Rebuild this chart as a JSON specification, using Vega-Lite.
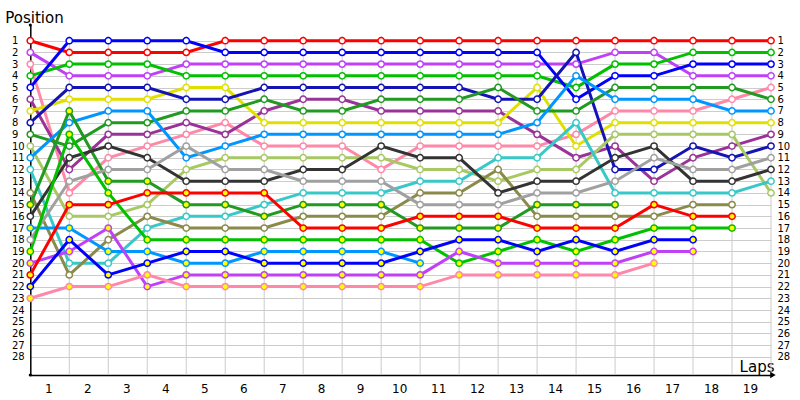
{
  "$schema": "https://vega.github.io/schema/vega-lite/v6.json",
  "width": 740.7,
  "height": 350,
  "padding": {"left": 30.3, "top": 25, "right": 29, "bottom": 25},
  "autosize": {"type": "none"},
  "background": "white",
  "config": {"view": {"stroke": null}, "font": "DejaVu Sans"},
  "datasets": {
    "laps": [{"lap":1},{"lap":2},{"lap":3},{"lap":4},{"lap":5},{"lap":6},{"lap":7},{"lap":8},{"lap":9},{"lap":10},{"lap":11},{"lap":12},{"lap":13},{"lap":14},{"lap":15},{"lap":16},{"lap":17},{"lap":18},{"lap":19}],
    "race": [
{"d":"A","g":"w","lap":0,"pos":1},{"d":"A","g":"w","lap":1,"pos":2},{"d":"A","g":"w","lap":2,"pos":2},{"d":"A","g":"w","lap":3,"pos":2},{"d":"A","g":"w","lap":4,"pos":2},{"d":"A","g":"w","lap":5,"pos":1},{"d":"A","g":"w","lap":6,"pos":1},{"d":"A","g":"w","lap":7,"pos":1},{"d":"A","g":"w","lap":8,"pos":1},{"d":"A","g":"w","lap":9,"pos":1},{"d":"A","g":"w","lap":10,"pos":1},{"d":"A","g":"w","lap":11,"pos":1},{"d":"A","g":"w","lap":12,"pos":1},{"d":"A","g":"w","lap":13,"pos":1},{"d":"A","g":"w","lap":14,"pos":1},{"d":"A","g":"w","lap":15,"pos":1},{"d":"A","g":"w","lap":16,"pos":1},{"d":"A","g":"w","lap":17,"pos":1},{"d":"A","g":"w","lap":18,"pos":1},{"d":"A","g":"w","lap":19,"pos":1},
{"d":"B","g":"w","lap":0,"pos":2},{"d":"B","g":"w","lap":1,"pos":4},{"d":"B","g":"w","lap":2,"pos":4},{"d":"B","g":"w","lap":3,"pos":4},{"d":"B","g":"w","lap":4,"pos":3},{"d":"B","g":"w","lap":5,"pos":3},{"d":"B","g":"w","lap":6,"pos":3},{"d":"B","g":"w","lap":7,"pos":3},{"d":"B","g":"w","lap":8,"pos":3},{"d":"B","g":"w","lap":9,"pos":3},{"d":"B","g":"w","lap":10,"pos":3},{"d":"B","g":"w","lap":11,"pos":3},{"d":"B","g":"w","lap":12,"pos":3},{"d":"B","g":"w","lap":13,"pos":3},{"d":"B","g":"w","lap":14,"pos":3},{"d":"B","g":"w","lap":15,"pos":2},{"d":"B","g":"w","lap":16,"pos":2},{"d":"B","g":"w","lap":17,"pos":4},{"d":"B","g":"w","lap":18,"pos":4},{"d":"B","g":"w","lap":19,"pos":4},
{"d":"C","g":"w","lap":0,"pos":3},{"d":"C","g":"w","lap":1,"pos":14},{"d":"C","g":"w","lap":2,"pos":11},{"d":"C","g":"w","lap":3,"pos":10},{"d":"C","g":"w","lap":4,"pos":9},{"d":"C","g":"w","lap":5,"pos":8},{"d":"C","g":"w","lap":6,"pos":10},{"d":"C","g":"w","lap":7,"pos":10},{"d":"C","g":"w","lap":8,"pos":10},{"d":"C","g":"w","lap":9,"pos":12},{"d":"C","g":"w","lap":10,"pos":10},{"d":"C","g":"w","lap":11,"pos":10},{"d":"C","g":"w","lap":12,"pos":10},{"d":"C","g":"w","lap":13,"pos":10},{"d":"C","g":"w","lap":14,"pos":9},{"d":"C","g":"w","lap":15,"pos":7},{"d":"C","g":"w","lap":16,"pos":7},{"d":"C","g":"w","lap":17,"pos":7},{"d":"C","g":"w","lap":18,"pos":6},{"d":"C","g":"w","lap":19,"pos":5},
{"d":"D","g":"w","lap":0,"pos":4},{"d":"D","g":"w","lap":1,"pos":3},{"d":"D","g":"w","lap":2,"pos":3},{"d":"D","g":"w","lap":3,"pos":3},{"d":"D","g":"w","lap":4,"pos":4},{"d":"D","g":"w","lap":5,"pos":4},{"d":"D","g":"w","lap":6,"pos":4},{"d":"D","g":"w","lap":7,"pos":4},{"d":"D","g":"w","lap":8,"pos":4},{"d":"D","g":"w","lap":9,"pos":4},{"d":"D","g":"w","lap":10,"pos":4},{"d":"D","g":"w","lap":11,"pos":4},{"d":"D","g":"w","lap":12,"pos":4},{"d":"D","g":"w","lap":13,"pos":4},{"d":"D","g":"w","lap":14,"pos":5},{"d":"D","g":"w","lap":15,"pos":3},{"d":"D","g":"w","lap":16,"pos":3},{"d":"D","g":"w","lap":17,"pos":2},{"d":"D","g":"w","lap":18,"pos":2},{"d":"D","g":"w","lap":19,"pos":2},
{"d":"E","g":"w","lap":0,"pos":5},{"d":"E","g":"w","lap":1,"pos":1},{"d":"E","g":"w","lap":2,"pos":1},{"d":"E","g":"w","lap":3,"pos":1},{"d":"E","g":"w","lap":4,"pos":1},{"d":"E","g":"w","lap":5,"pos":2},{"d":"E","g":"w","lap":6,"pos":2},{"d":"E","g":"w","lap":7,"pos":2},{"d":"E","g":"w","lap":8,"pos":2},{"d":"E","g":"w","lap":9,"pos":2},{"d":"E","g":"w","lap":10,"pos":2},{"d":"E","g":"w","lap":11,"pos":2},{"d":"E","g":"w","lap":12,"pos":2},{"d":"E","g":"w","lap":13,"pos":2},{"d":"E","g":"w","lap":14,"pos":6},{"d":"E","g":"w","lap":15,"pos":4},{"d":"E","g":"w","lap":16,"pos":4},{"d":"E","g":"w","lap":17,"pos":3},{"d":"E","g":"w","lap":18,"pos":3},{"d":"E","g":"w","lap":19,"pos":3},
{"d":"F","g":"w","lap":0,"pos":6},{"d":"F","g":"w","lap":1,"pos":12},{"d":"F","g":"w","lap":2,"pos":9},{"d":"F","g":"w","lap":3,"pos":9},{"d":"F","g":"w","lap":4,"pos":8},{"d":"F","g":"w","lap":5,"pos":9},{"d":"F","g":"w","lap":6,"pos":7},{"d":"F","g":"w","lap":7,"pos":6},{"d":"F","g":"w","lap":8,"pos":6},{"d":"F","g":"w","lap":9,"pos":7},{"d":"F","g":"w","lap":10,"pos":7},{"d":"F","g":"w","lap":11,"pos":7},{"d":"F","g":"w","lap":12,"pos":7},{"d":"F","g":"w","lap":13,"pos":9},{"d":"F","g":"w","lap":14,"pos":11},{"d":"F","g":"w","lap":15,"pos":10},{"d":"F","g":"w","lap":16,"pos":13},{"d":"F","g":"w","lap":17,"pos":11},{"d":"F","g":"w","lap":18,"pos":10},{"d":"F","g":"w","lap":19,"pos":9},
{"d":"G","g":"w","lap":0,"pos":7},{"d":"G","g":"w","lap":1,"pos":6},{"d":"G","g":"w","lap":2,"pos":6},{"d":"G","g":"w","lap":3,"pos":6},{"d":"G","g":"w","lap":4,"pos":5},{"d":"G","g":"w","lap":5,"pos":5},{"d":"G","g":"w","lap":6,"pos":8},{"d":"G","g":"w","lap":7,"pos":8},{"d":"G","g":"w","lap":8,"pos":8},{"d":"G","g":"w","lap":9,"pos":8},{"d":"G","g":"w","lap":10,"pos":8},{"d":"G","g":"w","lap":11,"pos":8},{"d":"G","g":"w","lap":12,"pos":8},{"d":"G","g":"w","lap":13,"pos":5},{"d":"G","g":"w","lap":14,"pos":10},{"d":"G","g":"w","lap":15,"pos":8},{"d":"G","g":"w","lap":16,"pos":8},{"d":"G","g":"w","lap":17,"pos":8},{"d":"G","g":"w","lap":18,"pos":8},{"d":"G","g":"w","lap":19,"pos":8},
{"d":"H","g":"w","lap":0,"pos":8},{"d":"H","g":"w","lap":1,"pos":5},{"d":"H","g":"w","lap":2,"pos":5},{"d":"H","g":"w","lap":3,"pos":5},{"d":"H","g":"w","lap":4,"pos":6},{"d":"H","g":"w","lap":5,"pos":6},{"d":"H","g":"w","lap":6,"pos":5},{"d":"H","g":"w","lap":7,"pos":5},{"d":"H","g":"w","lap":8,"pos":5},{"d":"H","g":"w","lap":9,"pos":5},{"d":"H","g":"w","lap":10,"pos":5},{"d":"H","g":"w","lap":11,"pos":5},{"d":"H","g":"w","lap":12,"pos":6},{"d":"H","g":"w","lap":13,"pos":6},{"d":"H","g":"w","lap":14,"pos":2},{"d":"H","g":"w","lap":15,"pos":12},{"d":"H","g":"w","lap":16,"pos":12},{"d":"H","g":"w","lap":17,"pos":10},{"d":"H","g":"w","lap":18,"pos":11},{"d":"H","g":"w","lap":19,"pos":10},
{"d":"I","g":"w","lap":0,"pos":9},{"d":"I","g":"w","lap":1,"pos":10},{"d":"I","g":"w","lap":2,"pos":8},{"d":"I","g":"w","lap":3,"pos":8},{"d":"I","g":"w","lap":4,"pos":7},{"d":"I","g":"w","lap":5,"pos":7},{"d":"I","g":"w","lap":6,"pos":6},{"d":"I","g":"w","lap":7,"pos":7},{"d":"I","g":"w","lap":8,"pos":7},{"d":"I","g":"w","lap":9,"pos":6},{"d":"I","g":"w","lap":10,"pos":6},{"d":"I","g":"w","lap":11,"pos":6},{"d":"I","g":"w","lap":12,"pos":5},{"d":"I","g":"w","lap":13,"pos":7},{"d":"I","g":"w","lap":14,"pos":7},{"d":"I","g":"w","lap":15,"pos":5},{"d":"I","g":"w","lap":16,"pos":5},{"d":"I","g":"w","lap":17,"pos":5},{"d":"I","g":"w","lap":18,"pos":5},{"d":"I","g":"w","lap":19,"pos":6},
{"d":"J","g":"w","lap":0,"pos":10},{"d":"J","g":"w","lap":1,"pos":16},{"d":"J","g":"w","lap":2,"pos":16},{"d":"J","g":"w","lap":3,"pos":15},{"d":"J","g":"w","lap":4,"pos":12},{"d":"J","g":"w","lap":5,"pos":11},{"d":"J","g":"w","lap":6,"pos":11},{"d":"J","g":"w","lap":7,"pos":11},{"d":"J","g":"w","lap":8,"pos":11},{"d":"J","g":"w","lap":9,"pos":11},{"d":"J","g":"w","lap":10,"pos":12},{"d":"J","g":"w","lap":11,"pos":12},{"d":"J","g":"w","lap":12,"pos":13},{"d":"J","g":"w","lap":13,"pos":12},{"d":"J","g":"w","lap":14,"pos":12},{"d":"J","g":"w","lap":15,"pos":9},{"d":"J","g":"w","lap":16,"pos":9},{"d":"J","g":"w","lap":17,"pos":9},{"d":"J","g":"w","lap":18,"pos":9},{"d":"J","g":"w","lap":19,"pos":14},
{"d":"K","g":"w","lap":0,"pos":11},{"d":"K","g":"w","lap":1,"pos":8},{"d":"K","g":"w","lap":2,"pos":7},{"d":"K","g":"w","lap":3,"pos":7},{"d":"K","g":"w","lap":4,"pos":11},{"d":"K","g":"w","lap":5,"pos":10},{"d":"K","g":"w","lap":6,"pos":9},{"d":"K","g":"w","lap":7,"pos":9},{"d":"K","g":"w","lap":8,"pos":9},{"d":"K","g":"w","lap":9,"pos":9},{"d":"K","g":"w","lap":10,"pos":9},{"d":"K","g":"w","lap":11,"pos":9},{"d":"K","g":"w","lap":12,"pos":9},{"d":"K","g":"w","lap":13,"pos":8},{"d":"K","g":"w","lap":14,"pos":4},{"d":"K","g":"w","lap":15,"pos":6},{"d":"K","g":"w","lap":16,"pos":6},{"d":"K","g":"w","lap":17,"pos":6},{"d":"K","g":"w","lap":18,"pos":7},{"d":"K","g":"w","lap":19,"pos":7},
{"d":"L","g":"w","lap":0,"pos":12},{"d":"L","g":"w","lap":1,"pos":20},{"d":"L","g":"w","lap":2,"pos":20},{"d":"L","g":"w","lap":3,"pos":17},{"d":"L","g":"w","lap":4,"pos":16},{"d":"L","g":"w","lap":5,"pos":16},{"d":"L","g":"w","lap":6,"pos":15},{"d":"L","g":"w","lap":7,"pos":14},{"d":"L","g":"w","lap":8,"pos":14},{"d":"L","g":"w","lap":9,"pos":14},{"d":"L","g":"w","lap":10,"pos":13},{"d":"L","g":"w","lap":11,"pos":13},{"d":"L","g":"w","lap":12,"pos":11},{"d":"L","g":"w","lap":13,"pos":11},{"d":"L","g":"w","lap":14,"pos":8},{"d":"L","g":"w","lap":15,"pos":14},{"d":"L","g":"w","lap":16,"pos":14},{"d":"L","g":"w","lap":17,"pos":14},{"d":"L","g":"w","lap":18,"pos":14},{"d":"L","g":"w","lap":19,"pos":13},
{"d":"M","g":"w","lap":0,"pos":14},{"d":"M","g":"w","lap":1,"pos":21},{"d":"M","g":"w","lap":2,"pos":18},{"d":"M","g":"w","lap":3,"pos":16},{"d":"M","g":"w","lap":4,"pos":17},{"d":"M","g":"w","lap":5,"pos":17},{"d":"M","g":"w","lap":6,"pos":17},{"d":"M","g":"w","lap":7,"pos":16},{"d":"M","g":"w","lap":8,"pos":16},{"d":"M","g":"w","lap":9,"pos":16},{"d":"M","g":"w","lap":10,"pos":14},{"d":"M","g":"w","lap":11,"pos":14},{"d":"M","g":"w","lap":12,"pos":12},{"d":"M","g":"w","lap":13,"pos":16},{"d":"M","g":"w","lap":14,"pos":16},{"d":"M","g":"w","lap":15,"pos":16},{"d":"M","g":"w","lap":16,"pos":16},{"d":"M","g":"w","lap":17,"pos":15},{"d":"M","g":"w","lap":18,"pos":15},
{"d":"N","g":"y","lap":0,"pos":15},{"d":"N","g":"y","lap":1,"pos":7},{"d":"N","g":"y","lap":2,"pos":13},{"d":"N","g":"y","lap":3,"pos":13},{"d":"N","g":"y","lap":4,"pos":15},{"d":"N","g":"y","lap":5,"pos":15},{"d":"N","g":"y","lap":6,"pos":16},{"d":"N","g":"y","lap":7,"pos":15},{"d":"N","g":"y","lap":8,"pos":15},{"d":"N","g":"y","lap":9,"pos":15},{"d":"N","g":"y","lap":10,"pos":17},{"d":"N","g":"y","lap":11,"pos":17},{"d":"N","g":"y","lap":12,"pos":17},{"d":"N","g":"y","lap":13,"pos":15},{"d":"N","g":"y","lap":14,"pos":15},{"d":"N","g":"y","lap":15,"pos":15},
{"d":"O","g":"w","lap":0,"pos":16},{"d":"O","g":"w","lap":1,"pos":11},{"d":"O","g":"w","lap":2,"pos":10},{"d":"O","g":"w","lap":3,"pos":11},{"d":"O","g":"w","lap":4,"pos":13},{"d":"O","g":"w","lap":5,"pos":13},{"d":"O","g":"w","lap":6,"pos":13},{"d":"O","g":"w","lap":7,"pos":12},{"d":"O","g":"w","lap":8,"pos":12},{"d":"O","g":"w","lap":9,"pos":10},{"d":"O","g":"w","lap":10,"pos":11},{"d":"O","g":"w","lap":11,"pos":11},{"d":"O","g":"w","lap":12,"pos":14},{"d":"O","g":"w","lap":13,"pos":13},{"d":"O","g":"w","lap":14,"pos":13},{"d":"O","g":"w","lap":15,"pos":11},{"d":"O","g":"w","lap":16,"pos":10},{"d":"O","g":"w","lap":17,"pos":13},{"d":"O","g":"w","lap":18,"pos":13},{"d":"O","g":"w","lap":19,"pos":12},
{"d":"P","g":"y","lap":0,"pos":17},{"d":"P","g":"y","lap":1,"pos":17},{"d":"P","g":"y","lap":2,"pos":19},{"d":"P","g":"y","lap":3,"pos":19},{"d":"P","g":"y","lap":4,"pos":20},{"d":"P","g":"y","lap":5,"pos":20},{"d":"P","g":"y","lap":6,"pos":19},{"d":"P","g":"y","lap":7,"pos":19},{"d":"P","g":"y","lap":8,"pos":19},{"d":"P","g":"y","lap":9,"pos":19},{"d":"P","g":"y","lap":10,"pos":20},
{"d":"Q","g":"w","lap":0,"pos":18},{"d":"Q","g":"w","lap":1,"pos":13},{"d":"Q","g":"w","lap":2,"pos":12},{"d":"Q","g":"w","lap":3,"pos":12},{"d":"Q","g":"w","lap":4,"pos":10},{"d":"Q","g":"w","lap":5,"pos":12},{"d":"Q","g":"w","lap":6,"pos":12},{"d":"Q","g":"w","lap":7,"pos":13},{"d":"Q","g":"w","lap":8,"pos":13},{"d":"Q","g":"w","lap":9,"pos":13},{"d":"Q","g":"w","lap":10,"pos":15},{"d":"Q","g":"w","lap":11,"pos":15},{"d":"Q","g":"w","lap":12,"pos":15},{"d":"Q","g":"w","lap":13,"pos":14},{"d":"Q","g":"w","lap":14,"pos":14},{"d":"Q","g":"w","lap":15,"pos":13},{"d":"Q","g":"w","lap":16,"pos":11},{"d":"Q","g":"w","lap":17,"pos":12},{"d":"Q","g":"w","lap":18,"pos":12},{"d":"Q","g":"w","lap":19,"pos":11},
{"d":"R","g":"y","lap":0,"pos":19},{"d":"R","g":"y","lap":1,"pos":9},{"d":"R","g":"y","lap":2,"pos":14},{"d":"R","g":"y","lap":3,"pos":18},{"d":"R","g":"y","lap":4,"pos":18},{"d":"R","g":"y","lap":5,"pos":18},{"d":"R","g":"y","lap":6,"pos":18},{"d":"R","g":"y","lap":7,"pos":18},{"d":"R","g":"y","lap":8,"pos":18},{"d":"R","g":"y","lap":9,"pos":18},{"d":"R","g":"y","lap":10,"pos":18},{"d":"R","g":"y","lap":11,"pos":20},{"d":"R","g":"y","lap":12,"pos":19},{"d":"R","g":"y","lap":13,"pos":18},{"d":"R","g":"y","lap":14,"pos":19},{"d":"R","g":"y","lap":15,"pos":18},{"d":"R","g":"y","lap":16,"pos":17},{"d":"R","g":"y","lap":17,"pos":17},{"d":"R","g":"y","lap":18,"pos":17},
{"d":"S","g":"y","lap":0,"pos":20},{"d":"S","g":"y","lap":1,"pos":19},{"d":"S","g":"y","lap":2,"pos":17},{"d":"S","g":"y","lap":3,"pos":22},{"d":"S","g":"y","lap":4,"pos":21},{"d":"S","g":"y","lap":5,"pos":21},{"d":"S","g":"y","lap":6,"pos":21},{"d":"S","g":"y","lap":7,"pos":21},{"d":"S","g":"y","lap":8,"pos":21},{"d":"S","g":"y","lap":9,"pos":21},{"d":"S","g":"y","lap":10,"pos":21},{"d":"S","g":"y","lap":11,"pos":19},{"d":"S","g":"y","lap":12,"pos":20},{"d":"S","g":"y","lap":13,"pos":20},{"d":"S","g":"y","lap":14,"pos":20},{"d":"S","g":"y","lap":15,"pos":20},{"d":"S","g":"y","lap":16,"pos":19},{"d":"S","g":"y","lap":17,"pos":19},
{"d":"T","g":"y","lap":0,"pos":21},{"d":"T","g":"y","lap":1,"pos":15},{"d":"T","g":"y","lap":2,"pos":15},{"d":"T","g":"y","lap":3,"pos":14},{"d":"T","g":"y","lap":4,"pos":14},{"d":"T","g":"y","lap":5,"pos":14},{"d":"T","g":"y","lap":6,"pos":14},{"d":"T","g":"y","lap":7,"pos":17},{"d":"T","g":"y","lap":8,"pos":17},{"d":"T","g":"y","lap":9,"pos":17},{"d":"T","g":"y","lap":10,"pos":16},{"d":"T","g":"y","lap":11,"pos":16},{"d":"T","g":"y","lap":12,"pos":16},{"d":"T","g":"y","lap":13,"pos":17},{"d":"T","g":"y","lap":14,"pos":17},{"d":"T","g":"y","lap":15,"pos":17},{"d":"T","g":"y","lap":16,"pos":15},{"d":"T","g":"y","lap":17,"pos":16},{"d":"T","g":"y","lap":18,"pos":16},
{"d":"U","g":"y","lap":0,"pos":22},{"d":"U","g":"y","lap":1,"pos":18},{"d":"U","g":"y","lap":2,"pos":21},{"d":"U","g":"y","lap":3,"pos":20},{"d":"U","g":"y","lap":4,"pos":19},{"d":"U","g":"y","lap":5,"pos":19},{"d":"U","g":"y","lap":6,"pos":20},{"d":"U","g":"y","lap":7,"pos":20},{"d":"U","g":"y","lap":8,"pos":20},{"d":"U","g":"y","lap":9,"pos":20},{"d":"U","g":"y","lap":10,"pos":19},{"d":"U","g":"y","lap":11,"pos":18},{"d":"U","g":"y","lap":12,"pos":18},{"d":"U","g":"y","lap":13,"pos":19},{"d":"U","g":"y","lap":14,"pos":18},{"d":"U","g":"y","lap":15,"pos":19},{"d":"U","g":"y","lap":16,"pos":18},{"d":"U","g":"y","lap":17,"pos":18},
{"d":"V","g":"y","lap":0,"pos":23},{"d":"V","g":"y","lap":1,"pos":22},{"d":"V","g":"y","lap":2,"pos":22},{"d":"V","g":"y","lap":3,"pos":21},{"d":"V","g":"y","lap":4,"pos":22},{"d":"V","g":"y","lap":5,"pos":22},{"d":"V","g":"y","lap":6,"pos":22},{"d":"V","g":"y","lap":7,"pos":22},{"d":"V","g":"y","lap":8,"pos":22},{"d":"V","g":"y","lap":9,"pos":22},{"d":"V","g":"y","lap":10,"pos":22},{"d":"V","g":"y","lap":11,"pos":21},{"d":"V","g":"y","lap":12,"pos":21},{"d":"V","g":"y","lap":13,"pos":21},{"d":"V","g":"y","lap":14,"pos":21},{"d":"V","g":"y","lap":15,"pos":21},{"d":"V","g":"y","lap":16,"pos":20}
    ]
  },
  "layer": [
    {
      "data": {"name": "laps"},
      "mark": {"type": "rule", "color": "#cccccc", "strokeWidth": 1},
      "encoding": {
        "x": {"field": "lap", "type": "quantitative", "scale": {"domain": [0, 19], "nice": false, "zero": false}, "axis": null},
        "y": {"datum": 0.6, "type": "quantitative", "scale": {"domain": [-0.34, 29.55], "reverse": true, "nice": false, "zero": false}, "axis": null},
        "y2": {"datum": 29.55}
      }
    },
    {
      "data": {"name": "race"},
      "mark": {"type": "line", "strokeWidth": 3, "interpolate": "linear"},
      "encoding": {
        "x": {"field": "lap", "type": "quantitative", "scale": {"domain": [0, 19], "nice": false, "zero": false},
          "axis": {"orient": "bottom", "values": [0.5,1.5,2.5,3.5,4.5,5.5,6.5,7.5,8.5,9.5,10.5,11.5,12.5,13.5,14.5,15.5,16.5,17.5,18.5],
            "labelExpr": "'' + (datum.value + 0.5)", "grid": false, "ticks": false, "domainColor": "#000000", "domainWidth": 1.5,
            "labelFont": "DejaVu Sans", "labelFontSize": 12, "labelColor": "#000000", "labelPadding": 8, "labelOffset": -1.5, "labelOverlap": false, "labelFlush": false,
            "title": "Laps", "titleFont": "DejaVu Sans", "titleFontSize": 15, "titleFontWeight": "normal", "titleColor": "#000000",
            "titleAlign": "right", "titleBaseline": "alphabetic", "titleX": 743.7, "titleY": -4, "titleAngle": 0}},
        "y": {"field": "pos", "type": "quantitative", "scale": {"domain": [-0.34, 29.55], "reverse": true, "nice": false, "zero": false},
          "axis": {"orient": "left", "values": [1,2,3,4,5,6,7,8,9,10,11,12,13,14,15,16,17,18,19,20,21,22,23,24,25,26,27,28],
            "grid": true, "gridColor": "#cccccc", "gridWidth": 1, "ticks": false, "domainColor": "#000000", "domainWidth": 1.5,
            "labelFont": "DejaVu Sans", "labelFontSize": 10, "labelColor": "#000000", "labelAlign": "left", "labelPadding": 18.8, "labelOverlap": false, "labelBound": false,
            "title": "Position", "titleFont": "DejaVu Sans", "titleFontSize": 15, "titleFontWeight": "normal", "titleColor": "#000000",
            "titleAlign": "left", "titleBaseline": "alphabetic", "titleAngle": 0, "titleX": -25.5, "titleY": -3}},
        "color": {"field": "d", "type": "nominal", "legend": null,
          "scale": {"domain": ["A","B","C","D","E","F","G","H","I","J","K","L","M","N","O","P","Q","R","S","T","U","V"],
            "range": ["#FF0000","#C040F8","#FF88A8","#00C000","#0000FF","#993399","#E0E000","#1414B4","#209A20","#A8C864","#0096FF","#38C8C8","#8A8A4A","#209A20","#333333","#0096FF","#A0A0A0","#00C000","#C040F8","#FF0000","#0000FF","#FF88A8"]}},
        "detail": {"field": "d"},
        "order": {"field": "lap", "type": "quantitative"}
      }
    },
    {
      "data": {"name": "race"},
      "mark": {"type": "point", "shape": "circle", "filled": true, "size": 40, "strokeWidth": 1.5, "opacity": 1},
      "encoding": {
        "x": {"field": "lap", "type": "quantitative", "scale": {"domain": [0, 19], "nice": false, "zero": false}, "axis": null},
        "y": {"field": "pos", "type": "quantitative", "scale": {"domain": [-0.34, 29.55], "reverse": true, "nice": false, "zero": false},
          "axis": {"orient": "right", "values": [1,2,3,4,5,6,7,8,9,10,11,12,13,14,15,16,17,18,19,20,21,22,23,24,25,26,27,28],
            "grid": false, "ticks": false, "domain": false, "labelFont": "DejaVu Sans", "labelFontSize": 10, "labelColor": "#000000",
            "labelAlign": "left", "labelPadding": 6, "labelOverlap": false, "labelBound": false, "title": null}},
        "stroke": {"field": "d", "type": "nominal", "legend": null,
          "scale": {"domain": ["A","B","C","D","E","F","G","H","I","J","K","L","M","N","O","P","Q","R","S","T","U","V"],
            "range": ["#FF0000","#C040F8","#FF88A8","#00C000","#0000FF","#993399","#E0E000","#1414B4","#209A20","#A8C864","#0096FF","#38C8C8","#8A8A4A","#209A20","#333333","#0096FF","#A0A0A0","#00C000","#C040F8","#FF0000","#0000FF","#FF88A8"]}},
        "fill": {"field": "g", "type": "nominal", "legend": null, "scale": {"domain": ["w","y"], "range": ["#FFFFFF","#FFFF00"]}}
      }
    },
    {
      "data": {"values": [{"end": "x"}]},
      "mark": {"type": "point", "shape": "triangle-right", "filled": true, "color": "#000000", "size": 40, "opacity": 1},
      "encoding": {
        "x": {"datum": 19.05, "type": "quantitative", "axis": null},
        "y": {"datum": 29.55, "type": "quantitative", "axis": null}
      }
    },
    {
      "data": {"values": [{"end": "y"}]},
      "mark": {"type": "point", "shape": "circle", "filled": true, "color": "#000000", "size": 10, "opacity": 1},
      "encoding": {
        "x": {"datum": 0, "type": "quantitative", "axis": null},
        "y": {"datum": -0.34, "type": "quantitative", "axis": null}
      }
    },
    {
      "data": {"values": [{"end": "o"}]},
      "mark": {"type": "point", "shape": "circle", "filled": true, "color": "#000000", "size": 10, "opacity": 1},
      "encoding": {
        "x": {"datum": 0, "type": "quantitative", "axis": null},
        "y": {"datum": 29.55, "type": "quantitative", "axis": null}
      }
    }
  ],
  "resolve": {"axis": {"x": "independent", "y": "independent"}, "scale": {"x": "shared", "y": "shared"}}
}
